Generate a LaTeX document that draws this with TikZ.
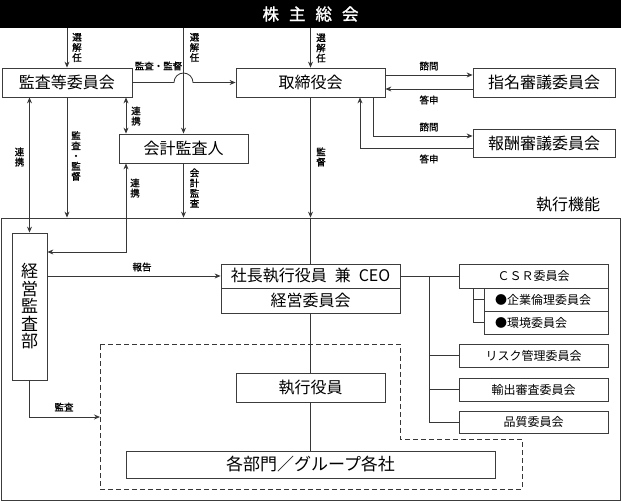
\documentclass[tikz,border=0pt]{standalone}
\usepackage{fontspec}
\setmainfont{Noto Sans CJK JP}
\newfontfamily\labfont[FakeBold=1.2]{Noto Sans CJK JP}
\newfontfamily\barfont[FakeBold=1.5]{Noto Sans CJK JP}
\usetikzlibrary{arrows.meta}
\definecolor{lc}{RGB}{55,55,55}
\definecolor{bc}{RGB}{60,60,60}
\begin{document}
\begin{tikzpicture}[x=1pt,y=-1pt,
 ln/.style={draw=lc, line width=0.8pt},
 arr/.style={ln, -{Stealth[length=6pt,width=5pt]}},
 darr/.style={ln, {Stealth[length=6pt,width=5pt]}-{Stealth[length=6pt,width=5pt]}},
 bx/.style={draw=bc, line width=0.8pt, inner sep=0pt, font=\fontsize{16}{18}\selectfont},
 sbx/.style={draw=bc, line width=0.8pt, inner sep=0pt, font=\fontsize{12}{14}\selectfont},
 lab/.style={inner sep=0pt, font=\labfont\fontsize{9.5}{10.2}\selectfont, align=center},
 dsh/.style={draw=lc, line width=0.8pt, dash pattern=on 5pt off 3pt}]
\useasboundingbox (0,0) rectangle (621,502);
% frame
\node[draw=bc, line width=0.8pt, minimum width=619pt, minimum height=282pt, inner sep=0pt] (frame) at (310.5,359) {};
\node[inner sep=0pt, font=\fontsize{16}{18}\selectfont] (kinou) at (568,205) {執行機能};
% top bar
\node[fill=black, text=white, minimum width=621pt, minimum height=28pt, inner sep=0pt, font=\barfont\fontsize{16.5}{18}\selectfont] (soukai) at (310.5,14) {株\hspace{10pt}主\hspace{10pt}総\hspace{10pt}会};
% boxes
\node[bx, minimum width=130pt, minimum height=29pt] (kansa) at (67,82.5) {監査等委員会};
\node[bx, minimum width=149pt, minimum height=29pt] (tori) at (310.5,82.5) {取締役会};
\node[bx, minimum width=142pt, minimum height=29pt] (shimei) at (544,82.5) {指名審議委員会};
\node[bx, minimum width=142pt, minimum height=28pt] (hoshu) at (544,143) {報酬審議委員会};
\node[bx, minimum width=129pt, minimum height=29pt] (kaikei) at (183.5,148.5) {会計監査人};
\node[bx, minimum width=35pt, minimum height=147pt, align=center, font=\fontsize{17}{17.5}\selectfont] (keiei) at (29.5,306.5) {経\\営\\監\\査\\部};
\node[bx, minimum width=179pt, minimum height=24pt] (ceo) at (310.5,276) {社長執行役員\hspace{8pt}兼\hspace{8pt}CEO};
\node[bx, minimum width=179pt, minimum height=25pt] (iinkai) at (310.5,300.5) {経営委員会};
\node[sbx, minimum width=149pt, minimum height=24pt] (csr) at (533.5,276) {ＣＳＲ委員会};
\node[sbx, minimum width=124pt, minimum height=23pt, text width=102pt, inner xsep=11pt, align=left] (rinri) at (546,299.5) {●企業倫理委員会};
\node[sbx, minimum width=124pt, minimum height=23pt, text width=102pt, inner xsep=11pt, align=left] (kankyo) at (546,322.5) {●環境委員会};
\node[sbx, minimum width=149pt, minimum height=23pt] (risk) at (533.5,355.5) {リスク管理委員会};
\node[sbx, minimum width=149pt, minimum height=23pt] (yushutsu) at (533.5,389.5) {輸出審査委員会};
\node[sbx, minimum width=149pt, minimum height=22pt] (hinshitsu) at (533.5,422) {品質委員会};
\node[bx, minimum width=149pt, minimum height=29pt] (shikko) at (310.5,387.5) {執行役員};
\node[bx, minimum width=369pt, minimum height=27pt, font=\fontsize{17}{19}\selectfont] (kakubu) at (310.5,464.5) {各部門／グループ各社};
% dashed region
\draw[dsh] (100,344) -- (400,344) -- (400,439) -- (522,439) -- (522,489) -- (100,489) -- cycle;
% helper coordinates
\coordinate (xa) at (126,0);
\coordinate (k1) at (126,252);
\coordinate (s2) at (373,136);
\coordinate (t2) at (360,148);
\coordinate (vb) at (429,0);
\coordinate (vc) at (473,0);
\coordinate (dl) at (100,417);
% connectors
\draw[arr] (soukai.south -| kansa) -- (kansa.north);
\draw[arr] (soukai.south -| kaikei) -- (kaikei.north);
\draw[arr] (soukai.south -| tori) -- (tori.north);
\draw[arr] (kansa.east) -- (174,82.5) arc[start angle=180,end angle=0,radius=9.5pt] -- (tori.west);
\draw[darr] (xa |- kansa.south) -- (xa |- kaikei.north);
\draw[darr] (keiei |- kansa.south) -- (keiei.north);
\draw[arr] (kansa.south) -- (kansa |- frame.north);
\draw[arr] (kaikei.south) -- (kaikei |- frame.north);
\draw[darr] (xa |- kaikei.south) -- (k1) -- (k1 -| keiei.east);
\draw[arr] (tori.south) -- (tori |- frame.north);
\draw[ln] (tori |- frame.north) -- (ceo.north);
\draw[arr] ([yshift=7.5pt]tori.east) -- ([yshift=7.5pt]shimei.west);
\draw[arr] ([yshift=-6.5pt]shimei.west) -- ([yshift=-6.5pt]tori.east);
\draw[arr] (s2 |- tori.south) -- (s2) -- (s2 -| hoshu.west);
\draw[arr] (t2 -| hoshu.west) -- (t2) -- (t2 |- tori.south);
\draw[arr] (keiei.east |- ceo) -- (ceo.west);
\draw[ln] (ceo.east) -- (csr.west);
\draw[ln] (vb |- ceo) -- (vb |- hinshitsu) -- (hinshitsu.west);
\draw[ln] (vb |- risk) -- (risk.west);
\draw[ln] (vb |- yushutsu) -- (yushutsu.west);
\draw[ln] (vc |- csr.south) -- (vc |- kankyo) -- (kankyo.west);
\draw[ln] (vc |- rinri) -- (rinri.west);
\draw[ln] (iinkai.south) -- (shikko.north);
\draw[ln] (shikko.south) -- (kakubu.north);
\draw[arr] (keiei.south) -- (keiei.south |- dl) -- (dl);
% labels
\node[lab] (l1) at (77,47.5) {選\\解\\任};
\node[lab] (l2) at (194.5,47.5) {選\\解\\任};
\node[lab] (l3) at (321,48) {選\\解\\任};
\node[lab] (l4) at (158.5,66) {監査・監督};
\node[lab] (l5) at (136,116) {連\\携};
\node[lab] (l6) at (19.5,157) {連\\携};
\node[lab] (l7) at (76,156) {監\\査\\・\\監\\督};
\node[lab] (l8) at (135,188) {連\\携};
\node[lab] (l9) at (194.5,188) {会\\計\\監\\査};
\node[lab] (l10) at (321,157) {監\\督};
\node[lab] (l11) at (429,66) {諮問};
\node[lab] (l12) at (429,100) {答申};
\node[lab] (l13) at (429,127) {諮問};
\node[lab] (l14) at (429,159) {答申};
\node[lab] (l15) at (142,267) {報告};
\node[lab] (l16) at (64,407) {監査};
\end{tikzpicture}
\end{document}
